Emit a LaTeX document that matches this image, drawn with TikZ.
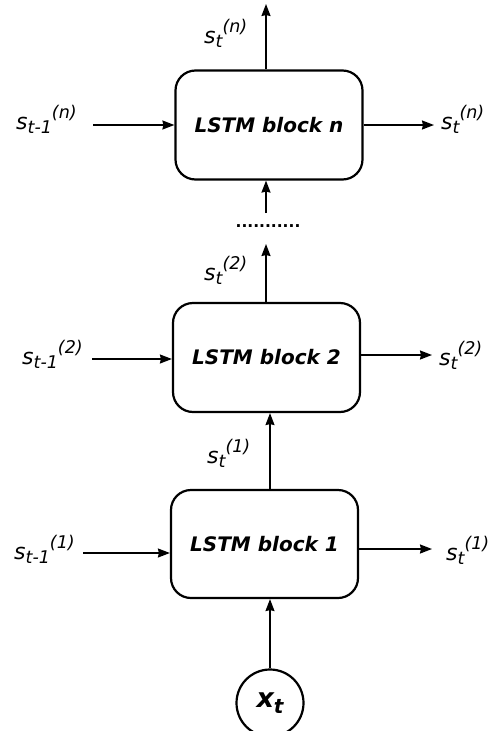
\documentclass[tikz,border=0pt]{standalone}
\usepackage{fontspec}
\setmainfont{DejaVu Sans}
\usetikzlibrary{arrows.meta}
\newcommand{\slab}[2]{\fontsize{22}{22}\selectfont\itshape s\raisebox{-0.2em}{\fontsize{17.5}{17.5}\selectfont #1}\raisebox{0.48em}{\fontsize{17.5}{17.5}\selectfont #2}}
\tikzset{
  blockbox/.style={draw, line width=2.2pt, rounded corners=20pt, minimum width=187pt, minimum height=109pt, inner sep=0pt, font=\fontsize{20}{20}\selectfont\bfseries\itshape},
  conn/.style={line width=1.6pt, -{Stealth[length=12pt,width=9pt,inset=1pt]}},
  lab/.style={inner sep=0pt, anchor=base west},
}
\begin{document}
\begin{tikzpicture}[x=1pt,y=-1pt]
\useasboundingbox (0,0) rectangle (490,731);
% blocks
\node[blockbox] (bn) at (269,125) {LSTM block n};
\node[blockbox] (b2) at (266.5,357.5) {LSTM block 2};
\node[blockbox, minimum height=108pt] (b1) at (264.5,544) {LSTM block 1};
\node[draw, circle, line width=2.2pt, minimum size=67pt, inner sep=0pt] (x) at (270,703)
  {\fontsize{27}{27}\selectfont\bfseries\itshape x\raisebox{-0.2em}{\fontsize{20}{20}\selectfont t}};
\node[inner sep=0pt, font=\fontsize{15.5}{15.5}\selectfont\bfseries] (dots) at (268,226) {...........};
% free ends
\coordinate (tn) at (266,4);
\coordinate (ln) at (93,125);
\coordinate (rn) at (434,125);
\coordinate (l2) at (92,359);
\coordinate (r2) at (432,355);
\coordinate (l1) at (83,553);
\coordinate (r1) at (432,549);
% labels
\node[lab] (sn-top) at (204,43) {\slab{t}{(n)}};
\node[lab] (sn-left) at (16,129) {\slab{t-1}{(n)}};
\node[lab] (sn-right) at (441,129) {\slab{t}{(n)}};
\node[lab] (s2-top) at (204,280) {\slab{t}{(2)}};
\node[lab] (s2-left) at (22,364) {\slab{t-1}{(2)}};
\node[lab] (s2-right) at (439,365) {\slab{t}{(2)}};
\node[lab] (s1-top) at (207,463) {\slab{t}{(1)}};
\node[lab] (s1-left) at (14,559) {\slab{t-1}{(1)}};
\node[lab] (s1-right) at (446,560) {\slab{t}{(1)}};
% connectors
\draw[conn] (bn.north -| tn) -- (tn);
\draw[conn] (ln) -- (bn.west |- ln);
\draw[conn] (bn.east |- rn) -- (rn);
\draw[conn] (266,213) coordinate (dn) -- (bn.south -| dn);
\draw[conn] (b2.north -| dn) -- (266,244) coordinate (up2);
\draw[conn] (l2) -- (b2.west |- l2);
\draw[conn] (b2.east |- r2) -- (r2);
\draw[conn] (b1.north -| x.north) -- (b2.south -| x.north);
\draw[conn] (l1) -- (b1.west |- l1);
\draw[conn] (b1.east |- r1) -- (r1);
\draw[conn] (x.north) -- (b1.south -| x.north);
\end{tikzpicture}
\end{document}
